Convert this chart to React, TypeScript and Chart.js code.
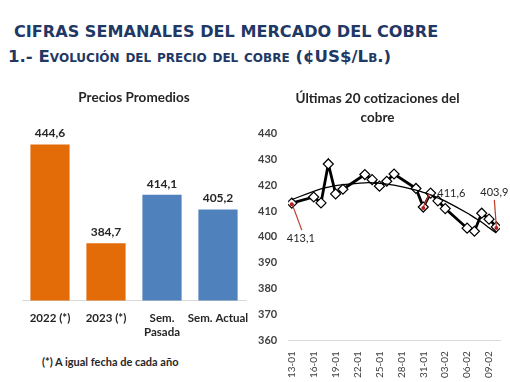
import React, { useEffect, useRef } from "react";
import { Chart, registerables } from "chart.js";
Chart.register(...registerables);

// ---- Data: average prices (bar chart) ----
const barCategories = [["2022 (*)"], ["2023 (*)"], ["Sem.", "Pasada"], ["Sem. Actual"]];
const barValues = [444.6, 384.7, 414.1, 405.2];
const barColors = ["#E36C09", "#E36C09", "#4F81BD", "#4F81BD"];

// ---- Data: last quotations (line chart) ----
const quoteDates = [
  "13-01", "16-01", "17-01", "18-01", "19-01", "20-01",
  "23-01", "24-01", "25-01", "26-01", "27-01",
  "30-01", "31-01", "01-02", "02-02", "03-02",
  "06-02", "07-02", "08-02", "09-02", "10-02",
];
const quoteValues = [
  413.1, 415.5, 413.2, 428.3, 416.7, 418.5,
  424.2, 422.2, 419.7, 421.6, 424.4,
  418.8, 411.6, 417.0, 414.0, 411.0,
  403.4, 402.2, 409.2, 406.9, 403.9,
];
// polynomial trend line, at each quotation date
const trendValues = [
  414.5, 417.7, 418.6, 419.3, 419.9, 420.3,
  421.0, 421.0, 420.8, 420.5, 420.1,
  418.2, 417.3, 416.3, 415.1, 413.9,
  409.3, 407.5, 405.7, 403.6, 401.5,
];
const xTickDates = ["13-01", "16-01", "19-01", "22-01", "25-01", "28-01", "31-01", "03-02", "06-02", "09-02"];
const labeledIndices = [0, 12, 20];
const yTicks = [360, 370, 380, 390, 400, 410, 420, 430, 440];

// ---- Styles ----
const NAVY = "#1F3864";
const CHART_FONT = "Lato, 'Open Sans', sans-serif";
const leaderStyle = [
  { lx: 10, ly: 27, tx: 9, ty: 35, align: "center" },
  { lx: 6, ly: -13, tx: 14, ty: -14, align: "left" },
  { lx: -2, ly: -27, tx: -2, ty: -34, align: "center" },
];

function dayOf(s: string) {
  const [d, m] = s.split("-").map(Number);
  return (Date.UTC(2023, m - 1, d) - Date.UTC(2023, 0, 13)) / 86400000;
}
const fmt = (v: number) => v.toFixed(1).replace(".", ",");

const barLabelPlugin = {
  id: "barLabels",
  afterDatasetsDraw(chart: any) {
    const ctx = chart.ctx;
    const meta = chart.getDatasetMeta(0);
    ctx.save();
    ctx.font = `bold 12px ${CHART_FONT}`;
    ctx.fillStyle = "#262626";
    ctx.textAlign = "center";
    ctx.textBaseline = "bottom";
    meta.data.forEach((bar: any, i: number) => {
      ctx.fillText(fmt(barValues[i]), bar.x, bar.y - 5);
    });
    ctx.restore();
  },
};

const leaderPlugin = {
  id: "leaders",
  afterDatasetsDraw(chart: any) {
    const ctx = chart.ctx;
    const meta = chart.getDatasetMeta(1);
    ctx.save();
    labeledIndices.forEach((idx, k) => {
      const p = meta.data[idx];
      const st = leaderStyle[k];
      ctx.strokeStyle = "#C0392B";
      ctx.lineWidth = 1.2;
      ctx.beginPath();
      ctx.moveTo(p.x, p.y);
      ctx.lineTo(p.x + st.lx, p.y + st.ly);
      ctx.stroke();
      ctx.fillStyle = "#B41E1E";
      ctx.beginPath();
      ctx.arc(p.x, p.y + 1, 2, 0, Math.PI * 2);
      ctx.fill();
      ctx.font = `11px ${CHART_FONT}`;
      ctx.fillStyle = "#262626";
      ctx.textAlign = st.align;
      ctx.textBaseline = "middle";
      ctx.fillText(fmt(quoteValues[idx]), p.x + st.tx, p.y + st.ty);
    });
    ctx.restore();
  },
};

function BarChart() {
  const ref = useRef<HTMLCanvasElement>(null);
  useEffect(() => {
    const chart = new Chart(ref.current!, {
      type: "bar",
      data: {
        labels: barCategories,
        datasets: [
          {
            data: barValues,
            backgroundColor: barColors,
            barPercentage: 0.7,
            categoryPercentage: 1,
          },
        ],
      },
      options: {
        animation: false,
        responsive: false,
        maintainAspectRatio: false,
        layout: { padding: { left: 22, right: 9, top: 0, bottom: 0 } },
        plugins: {
          legend: { display: false },
          tooltip: { enabled: false },
          title: {
            display: true,
            text: "Precios Promedios",
            color: "#262626",
            font: { family: CHART_FONT, size: 13.5, weight: "bold" },
            padding: { top: 5, bottom: 13 },
          },
        },
        scales: {
          x: {
            grid: { display: false },
            border: { display: true, color: "#D9D9D9", width: 1 },
            ticks: {
              color: "#262626",
              font: { family: CHART_FONT, size: 11.5, weight: "bold" },
              padding: 3,
              maxRotation: 0,
              autoSkip: false,
            },
          },
          y: { display: false, min: 350, max: 460 },
        },
      },
      plugins: [barLabelPlugin],
    });
    return () => chart.destroy();
  }, []);
  return <canvas ref={ref} width={255} height={257} style={{ position: "absolute", left: 0, top: 85 }} />;
}

function LineChart() {
  const ref = useRef<HTMLCanvasElement>(null);
  useEffect(() => {
    const xs = quoteDates.map(dayOf);
    const chart = new Chart(ref.current!, {
      type: "line",
      data: {
        datasets: [
          {
            data: xs.map((x, i) => ({ x, y: trendValues[i] })),
            borderColor: "#000000",
            borderWidth: 1.3,
            pointRadius: 0,
            tension: 0.4,
            fill: false,
          },
          {
            data: xs.map((x, i) => ({ x, y: quoteValues[i] })),
            borderColor: "#000000",
            borderWidth: 2.8,
            pointStyle: "rectRot",
            pointRadius: 5,
            pointBorderWidth: 1.2,
            pointBorderColor: "#000000",
            pointBackgroundColor: "#FFFFFF",
            tension: 0,
            fill: false,
          },
        ],
      },
      options: {
        animation: false,
        responsive: false,
        maintainAspectRatio: false,
        layout: { padding: { left: 0, right: 10, top: 0, bottom: 1 } },
        plugins: {
          legend: { display: false },
          tooltip: { enabled: false },
          title: {
            display: true,
            text: ["Últimas 20 cotizaciones del", "cobre"],
            color: "#262626",
            font: { family: CHART_FONT, size: 13.5, weight: "bold", lineHeight: 1.4 },
            padding: { top: 4, bottom: 7 },
          },
        },
        scales: {
          x: {
            type: "linear",
            min: -0.5,
            max: 28.5,
            grid: { display: false },
            border: { display: true, color: "#D9D9D9", width: 1 },
            afterBuildTicks: (s: any) => {
              s.ticks = xTickDates.map((t) => ({ value: dayOf(t) }));
            },
            ticks: {
              autoSkip: false,
              minRotation: 90,
              maxRotation: 90,
              color: "#404040",
              font: { family: CHART_FONT, size: 10 },
              callback: (_v: any, i: number) => xTickDates[i],
            },
          },
          y: {
            min: 360,
            max: 440,
            grid: { display: false },
            border: { display: false },
            afterBuildTicks: (s: any) => {
              s.ticks = yTicks.map((v) => ({ value: v }));
            },
            ticks: {
              color: "#404040",
              font: { family: CHART_FONT, size: 11, weight: "bold" },
              padding: 3,
            },
          },
        },
      },
      plugins: [leaderPlugin],
    });
    return () => chart.destroy();
  }, []);
  return <canvas ref={ref} width={255} height={297} style={{ position: "absolute", left: 255, top: 85 }} />;
}

export default function App() {
  return (
    <div style={{ position: "fixed", left: 0, top: 0, width: 510, height: 382, background: "#FFFFFF", overflow: "hidden" }}>
      <div
        style={{
          position: "absolute", left: 14, top: 21, whiteSpace: "nowrap",
          font: "bold 16.1px 'DejaVu Sans', Verdana, sans-serif", color: NAVY, lineHeight: "22px",
        }}
      >
        CIFRAS SEMANALES DEL MERCADO DEL COBRE
      </div>
      <div
        style={{
          position: "absolute", left: 8, top: 47, whiteSpace: "nowrap",
          font: "bold 16.6px 'DejaVu Sans', Verdana, sans-serif", fontVariant: "small-caps", color: NAVY, lineHeight: "20px",
        }}
      >
        1.- Evolución del precio del cobre (¢US$/Lb.)
      </div>
      <BarChart />
      <LineChart />
      <div
        style={{
          position: "absolute", left: 42, top: 354, whiteSpace: "nowrap",
          font: `bold 11px ${CHART_FONT}`, color: "#262626", lineHeight: "16px",
        }}
      >
        (*) A igual fecha de cada año
      </div>
    </div>
  );
}
